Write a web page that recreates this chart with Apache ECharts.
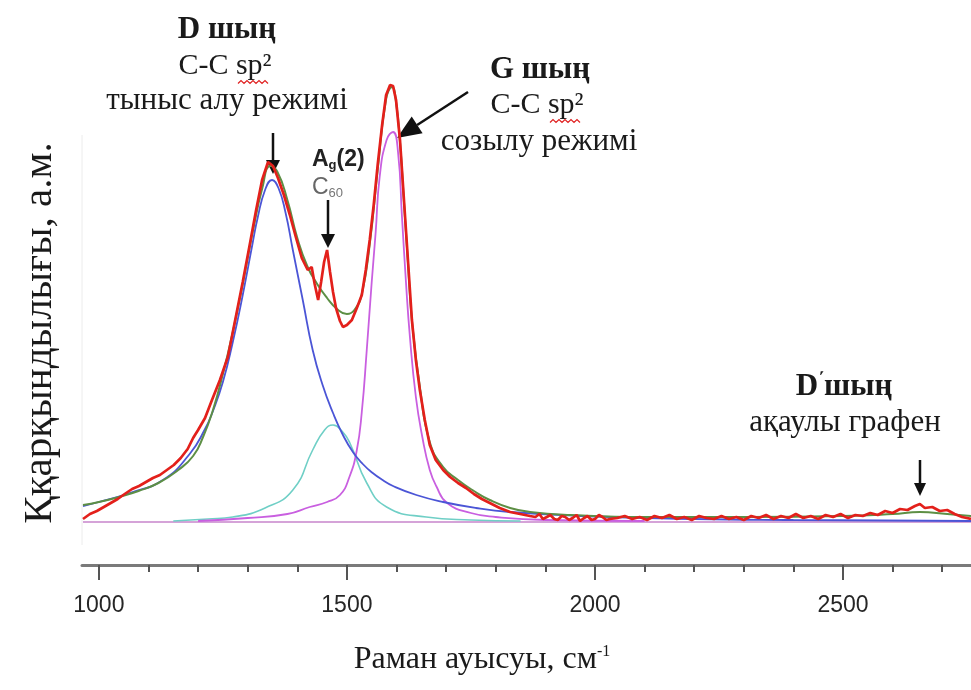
<!DOCTYPE html>
<html>
<head>
<meta charset="utf-8">
<script src="https://cdn.jsdelivr.net/npm/echarts@6/dist/echarts.min.js"></script>
<style>
  html, body { margin: 0; padding: 0; background: #fff; }
  #chart { width: 971px; height: 690px; }
</style>
</head>
<body>
<div id="chart"></div>
<script>
// Raman shift (cm-1) vs intensity (arb. units)
const measured = [
  [968,3],[982,8],[996,11],[1010,15],[1024,19],[1038,23],[1052,28],[1067,33],[1081,36],[1095,40],
  [1109,44],[1123,47],[1137,52],[1151,57],[1165,64],[1179,73],[1190,84],[1200,92],[1214,104],[1228,122],
  [1244,142],[1260,165],[1274,200],[1290,240],[1304,277],[1317,312],[1329,342],[1341,360],[1351,356],[1361,344],
  [1373,327],[1385,307],[1397,285],[1409,264],[1421,252],[1429,255],[1435,238],[1442,222],[1448,240],[1454,260],
  [1460,272],[1466,250],[1472,230],[1478,214],[1486,201],[1492,195],[1500,197],[1510,202],[1520,214],[1530,227],
  [1538,252],[1546,282],[1554,317],[1562,357],[1571,397],[1579,427],[1587,437],[1593,436],[1599,422],[1607,382],
  [1615,322],[1623,262],[1631,202],[1639,162],[1647,132],[1657,102],[1667,77],[1679,62],[1694,52],[1708,45],
  [1724,39],[1740,34],[1756,28],[1772,23],[1788,19],[1808,14],[1829,10],[1849,8],[1869,6],[1880,5],
  [1888,8],[1895,3],[1903,5],[1910,7],[1918,3],[1925,2],[1933,6],[1940,5],[1948,2],[1955,4],
  [1963,7],[1970,1],[1978,4],[1985,6],[1993,2],[2000,3],[2008,7],[2015,5],[2023,2],[2030,3],
  [2045,4],[2060,6],[2075,3],[2090,5],[2105,2],[2120,6],[2135,4],[2150,7],[2165,3],[2180,5],
  [2195,2],[2210,6],[2225,4],[2240,3],[2255,6],[2270,3],[2285,5],[2300,2],[2315,6],[2330,4],
  [2345,7],[2360,3],[2375,6],[2390,4],[2405,8],[2420,4],[2435,6],[2450,3],[2465,7],[2480,5],
  [2495,8],[2510,4],[2525,7],[2540,6],[2555,9],[2570,7],[2585,11],[2600,9],[2615,13],[2630,12],
  [2645,16],[2655,18],[2665,14],[2680,15],[2695,11],[2710,12],[2725,8],[2740,5],[2758,3]
];

const fitSum = [
  [968,17],[1000,20],[1040,25],[1080,31],[1120,39],[1160,52],[1190,66],[1210,85],[1230,112],[1250,148],
  [1270,190],[1290,238],[1310,290],[1330,335],[1345,356],[1360,350],[1380,322],[1400,284],[1420,256],[1440,238],
  [1460,224],[1480,213],[1500,208],[1515,212],[1530,228],[1546,278],[1562,352],[1579,423],[1591,435],[1599,420],
  [1607,380],[1615,320],[1623,260],[1631,202],[1647,135],[1667,80],[1694,55],[1724,42],[1756,31],[1788,22],
  [1829,14],[1869,10],[1950,7],[2100,5],[2300,5],[2500,6],[2600,8],[2655,10],[2710,8],[2758,6]
];

const peakD = [
  [968,16],[1000,20],[1062,29],[1129,42],[1183,68],[1214,93],[1230,111],[1250,140],[1270,180],[1290,227],
  [1310,279],[1320,304],[1335,332],[1349,342],[1362,334],[1376,310],[1391,272],[1411,222],[1431,172],[1451,137],
  [1472,109],[1492,87],[1512,70],[1532,58],[1552,49],[1572,42],[1593,36],[1640,27],[1694,20],[1760,14],
  [1829,10],[1970,6],[2200,3],[2400,2],[2758,1]
];

const peakAg = [
  [1150,1],[1220,3],[1270,5],[1335,14],[1391,32],[1431,72],[1455,92],[1472,97],[1490,91],[1506,79],
  [1540,39],[1580,15],[1660,5],[1750,2],[1850,1]
];

const peakG = [
  [1200,1],[1300,4],[1380,8],[1425,15],[1460,20],[1486,27],[1505,45],[1520,72],[1530,110],[1540,172],
  [1550,240],[1558,290],[1566,345],[1580,382],[1593,390],[1603,370],[1611,305],[1619,240],[1627,185],[1639,125],
  [1652,85],[1667,52],[1680,36],[1702,19],[1750,9],[1800,5],[1900,2],[2100,1]
];

const baseline = [[968,0],[2758,0]];

const majorTicks = [1000, 1500, 2000, 2500];
const minorTicks = [1100, 1200, 1300, 1400, 1600, 1700, 1800, 1900, 2100, 2200, 2300, 2400, 2600, 2700];

const serif = '"Liberation Serif", "Times New Roman", serif';
const sans = '"Liberation Sans", Arial, sans-serif';

function arrow(x1, y1, x2, y2, headLen, headHalf) {
  const dx = x2 - x1, dy = y2 - y1;
  const len = Math.sqrt(dx * dx + dy * dy);
  const ux = dx / len, uy = dy / len;
  const bx = x2 - ux * headLen, by = y2 - uy * headLen;
  return [
    { type: 'line', shape: { x1: x1, y1: y1, x2: bx, y2: by }, style: { stroke: '#111', lineWidth: 2.5 } },
    { type: 'polygon', shape: { points: [[x2, y2], [bx - uy * headHalf, by + ux * headHalf], [bx + uy * headHalf, by - ux * headHalf]] },
      style: { fill: '#111' } }
  ];
}

function squiggle(x, y, w) {
  const pts = [];
  for (let i = 0; i <= w; i += 3) pts.push([x + i, y + ((i / 3) % 2 ? -1.5 : 1.5)]);
  return { type: 'polyline', shape: { points: pts }, style: { stroke: '#e02020', lineWidth: 1.2, fill: null } };
}

function label(text, x, y, size, bold, extra) {
  return {
    type: 'text', x: x, y: y,
    style: Object.assign({ text: text, font: (bold ? 'bold ' : '') + size + 'px ' + serif, fill: '#1a1a1a',
      align: 'center', verticalAlign: 'middle' }, extra || {})
  };
}

const chart = echarts.init(document.getElementById('chart'));

const lineSeries = (name, data, color, width, smooth, z) => ({
  name: name, type: 'line', data: data, showSymbol: false, smooth: smooth, z: z,
  lineStyle: { color: color, width: width }, emphasis: { disabled: true }
});

const option = {
  backgroundColor: '#fff',
  animation: false,
  grid: { left: 82, right: 0, top: 70, bottom: 125 },
  xAxis: [
    {
      type: 'value', min: 966, max: 2758,
      axisLine: { onZero: false, lineStyle: { color: '#7a7a7a', width: 3 } },
      axisTick: { customValues: majorTicks, length: 15, lineStyle: { color: '#555', width: 2 } },
      axisLabel: { customValues: majorTicks, formatter: (v) => String(v), margin: 29, color: '#262626', fontSize: 23, fontFamily: sans },
      splitLine: { show: false }
    },
    {
      type: 'value', min: 966, max: 2758, position: 'bottom',
      axisLine: { show: false, onZero: false },
      axisTick: { customValues: minorTicks, length: 7, lineStyle: { color: '#555', width: 2 } },
      axisLabel: { show: false },
      splitLine: { show: false }
    }
  ],
  yAxis: {
    type: 'value', min: -43, max: 452,
    axisLine: { show: false }, axisTick: { show: false }, axisLabel: { show: false }, splitLine: { show: false }
  },
  series: [
    lineSeries('baseline', baseline, '#d5a3d8', 2, false, 1),
    lineSeries('A_g', peakAg, '#6fcfc6', 1.6, true, 2),
    lineSeries('G', peakG, '#c95fe0', 1.8, true, 3),
    lineSeries('D', peakD, '#4b55d6', 1.8, true, 4),
    lineSeries('fit', fitSum, '#5d8f45', 2, true, 5),
    lineSeries('measured', measured, '#e3201b', 2.7, false, 6)
  ],
  graphic: [].concat(
    [{ type: 'line', shape: { x1: 82, y1: 135, x2: 82, y2: 545 }, style: { stroke: '#ececec', lineWidth: 1 } }],
    [
      label('D шың', 227, 30, 31, true),
      label('C-C sp²', 225, 66, 30, false),
      squiggle(238, 82, 32),
      label('тыныс алу режимі', 227, 101, 31, false),
      label('G шың', 540, 70, 31, true),
      label('C-C sp²', 537, 105, 30, false),
      squiggle(550, 121, 32),
      label('созылу режимі', 539, 142, 31, false),
      label('{a|D}{p|΄}{a|шың}', 844, 387, 31, true, {
        rich: { a: { font: 'bold 31px ' + serif, fill: '#1a1a1a' }, p: { font: 'bold 18px ' + serif, fill: '#1a1a1a', verticalAlign: 'top' } }
      }),
      label('ақаулы графен', 845, 423, 31, false),
      {
        type: 'text', x: 312, y: 160,
        style: { text: '{a|A}{g|g}{a|(2)}', align: 'left', verticalAlign: 'middle',
          rich: { a: { font: 'bold 23px ' + sans, fill: '#222' }, g: { font: 'bold 13px ' + sans, fill: '#222', verticalAlign: 'bottom' } } }
      },
      {
        type: 'text', x: 312, y: 188,
        style: { text: '{a|C}{s|60}', align: 'left', verticalAlign: 'middle',
          rich: { a: { font: '23px ' + sans, fill: '#666' }, s: { font: '13px ' + sans, fill: '#777', verticalAlign: 'bottom' } } }
      },
      {
        type: 'text', x: 40, y: 333, rotation: Math.PI / 2,
        style: { text: 'Ққарқындылығы, а.м.', font: '41px ' + serif, fill: '#1a1a1a', align: 'center', verticalAlign: 'middle' }
      },
      {
        type: 'text', x: 482, y: 660,
        style: { text: '{a|Раман ауысуы, см}{s|-1}', align: 'center', verticalAlign: 'middle',
          rich: { a: { font: '32px ' + serif, fill: '#1a1a1a' }, s: { font: '16px ' + serif, fill: '#1a1a1a', verticalAlign: 'top' } } }
      }
    ],
    arrow(273, 133, 273, 174, 14, 7),
    arrow(328, 200, 328, 248, 14, 7),
    arrow(468, 92, 397, 138, 24, 10),
    arrow(920, 460, 920, 496, 13, 6)
  )
};

chart.setOption(option);
</script>
</body>
</html>
